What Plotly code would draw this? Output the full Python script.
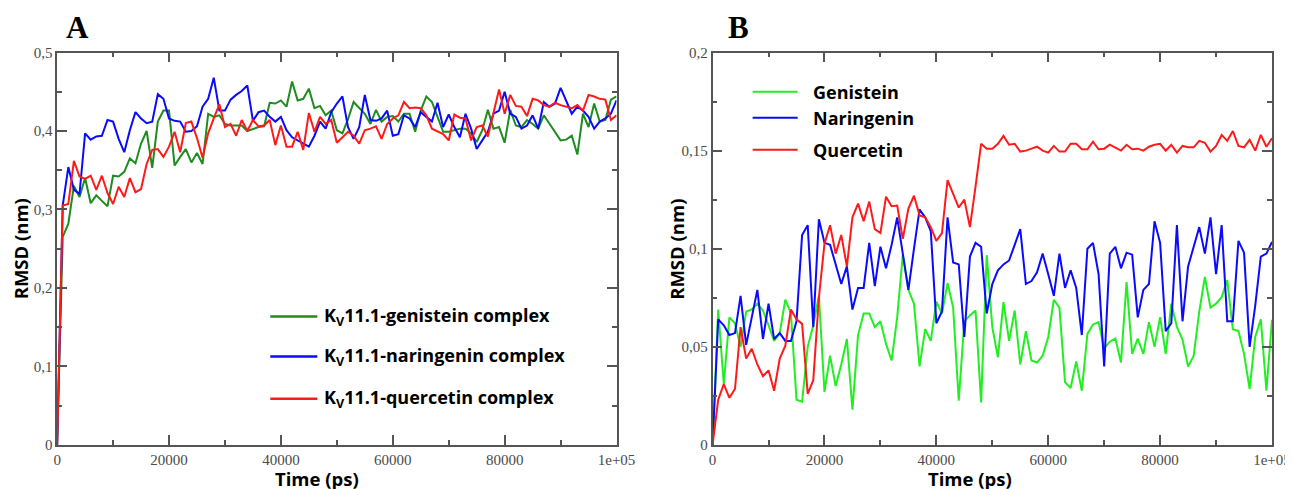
import plotly.graph_objects as go

# ---------------- data ----------------
TIME_PS = list(range(0, 100001, 1000))

A_GENISTEIN = [0.0, 0.265, 0.282, 0.33, 0.316, 0.34, 0.308, 0.318, 0.311, 0.304,
               0.343, 0.342, 0.348, 0.365, 0.359, 0.384, 0.4, 0.353, 0.412, 0.426,
               0.426, 0.356, 0.367, 0.377, 0.36, 0.372, 0.358, 0.422, 0.418, 0.42,
               0.409, 0.407, 0.407, 0.407, 0.4, 0.403, 0.405, 0.406, 0.436, 0.435,
               0.439, 0.431, 0.463, 0.439, 0.441, 0.454, 0.429, 0.432, 0.42, 0.426,
               0.401, 0.397, 0.415, 0.437, 0.429, 0.422, 0.409, 0.427, 0.412, 0.418,
               0.419, 0.412, 0.422, 0.422, 0.399, 0.426, 0.444, 0.437, 0.418, 0.399,
               0.399, 0.401, 0.403, 0.403, 0.397, 0.386, 0.401, 0.427, 0.403, 0.405,
               0.385, 0.427, 0.407, 0.405, 0.414, 0.409, 0.403, 0.42, 0.409, 0.399,
               0.388, 0.389, 0.394, 0.37, 0.422, 0.405, 0.435, 0.412, 0.414, 0.44,
               0.444]

A_NARINGENIN = [0.0, 0.305, 0.354, 0.325, 0.32, 0.397, 0.389, 0.393, 0.394, 0.414,
                0.412, 0.39, 0.373, 0.401, 0.424, 0.416, 0.41, 0.412, 0.447, 0.441,
                0.416, 0.413, 0.412, 0.399, 0.4, 0.406, 0.431, 0.441, 0.468, 0.426,
                0.426, 0.44, 0.446, 0.451, 0.458, 0.413, 0.424, 0.426, 0.418, 0.412,
                0.418, 0.401, 0.392, 0.388, 0.384, 0.38, 0.394, 0.412, 0.403, 0.424,
                0.435, 0.444, 0.405, 0.39, 0.405, 0.446, 0.414, 0.413, 0.416, 0.426,
                0.394, 0.396, 0.42, 0.416, 0.405, 0.424, 0.418, 0.412, 0.436, 0.405,
                0.421, 0.405, 0.392, 0.422, 0.403, 0.377, 0.388, 0.399, 0.422, 0.426,
                0.45, 0.422, 0.418, 0.403, 0.407, 0.42, 0.403, 0.437, 0.431, 0.435,
                0.455, 0.439, 0.422, 0.431, 0.426, 0.418, 0.403, 0.412, 0.416, 0.422,
                0.439]

A_QUERCETIN = [0.0, 0.305, 0.307, 0.362, 0.342, 0.339, 0.343, 0.325, 0.343, 0.321,
               0.307, 0.329, 0.316, 0.34, 0.322, 0.326, 0.358, 0.376, 0.377, 0.367,
               0.38, 0.399, 0.373, 0.41, 0.412, 0.391, 0.366, 0.397, 0.416, 0.434,
               0.405, 0.409, 0.394, 0.414, 0.4, 0.414, 0.406, 0.407, 0.414, 0.382,
               0.407, 0.38, 0.38, 0.399, 0.376, 0.423, 0.399, 0.418, 0.409, 0.414,
               0.385, 0.392, 0.399, 0.394, 0.384, 0.401, 0.403, 0.406, 0.39, 0.409,
               0.416, 0.42, 0.437, 0.429, 0.43, 0.429, 0.42, 0.403, 0.399, 0.396,
               0.388, 0.421, 0.417, 0.416, 0.388, 0.405, 0.407, 0.393, 0.423, 0.453,
               0.422, 0.446, 0.432, 0.431, 0.419, 0.441, 0.439, 0.433, 0.431, 0.436,
               0.433, 0.431, 0.429, 0.433, 0.426, 0.446, 0.444, 0.441, 0.44, 0.414,
               0.42]

B_GENISTEIN = [0.0, 0.069, 0.031, 0.065, 0.062, 0.05, 0.068, 0.069, 0.072, 0.0685,
               0.061, 0.053, 0.057, 0.074, 0.067, 0.023, 0.022, 0.05, 0.061, 0.076,
               0.027, 0.0455, 0.03, 0.041, 0.054, 0.018, 0.056, 0.067, 0.067, 0.06,
               0.063, 0.0515, 0.043, 0.065, 0.097, 0.079, 0.072, 0.04, 0.059, 0.053,
               0.073, 0.067, 0.0825, 0.07, 0.0225, 0.063, 0.066, 0.0685, 0.0217, 0.0967,
               0.06, 0.0447, 0.0728, 0.053, 0.0685, 0.041, 0.058, 0.043, 0.042, 0.0455,
               0.055, 0.074, 0.07, 0.032, 0.029, 0.0426, 0.0276, 0.0566, 0.0614, 0.0626,
               0.0492, 0.0526, 0.0542, 0.042, 0.083, 0.0464, 0.0542, 0.0464, 0.0626, 0.05,
               0.0651, 0.0464, 0.072, 0.0602, 0.0537, 0.04, 0.0455, 0.068, 0.0856, 0.07,
               0.072, 0.0753, 0.084, 0.059, 0.058, 0.0464, 0.0285, 0.055, 0.064, 0.0276,
               0.0638]

B_NARINGENIN = [0.0, 0.064, 0.061, 0.056, 0.057, 0.076, 0.051, 0.065, 0.079, 0.054,
                0.072, 0.054, 0.057, 0.053, 0.053, 0.063, 0.107, 0.112, 0.06, 0.115,
                0.103, 0.102, 0.092, 0.082, 0.091, 0.069, 0.08, 0.08, 0.103, 0.081,
                0.101, 0.09, 0.102, 0.116, 0.0975, 0.079, 0.1, 0.12, 0.116, 0.109,
                0.062, 0.068, 0.116, 0.093, 0.092, 0.055, 0.096, 0.103, 0.101, 0.067,
                0.082, 0.089, 0.092, 0.094, 0.102, 0.11, 0.082, 0.0835, 0.088, 0.0975,
                0.087, 0.076, 0.0975, 0.08, 0.089, 0.08, 0.056, 0.1, 0.103, 0.087,
                0.04, 0.0975, 0.101, 0.09, 0.098, 0.097, 0.065, 0.079, 0.082, 0.114,
                0.103, 0.058, 0.062, 0.112, 0.063, 0.091, 0.101, 0.111, 0.0975, 0.116,
                0.087, 0.112, 0.063, 0.063, 0.104, 0.098, 0.05, 0.071, 0.096, 0.0975,
                0.1035]

B_QUERCETIN = [0.0, 0.023, 0.031, 0.024, 0.0285, 0.06, 0.044, 0.049, 0.041, 0.035,
               0.038, 0.0276, 0.044, 0.0506, 0.069, 0.064, 0.0617, 0.026, 0.033, 0.075,
               0.1026, 0.112, 0.0975, 0.107, 0.091, 0.116, 0.123, 0.114, 0.124, 0.11,
               0.108, 0.1265, 0.1217, 0.122, 0.105, 0.1205, 0.127, 0.117, 0.116, 0.111,
               0.104, 0.108, 0.135, 0.128, 0.121, 0.125, 0.111, 0.1316, 0.1535, 0.151,
               0.151, 0.1535, 0.1575, 0.153, 0.1535, 0.1495, 0.15, 0.151, 0.152, 0.15,
               0.149, 0.1524, 0.1495, 0.1495, 0.1535, 0.1535, 0.1507, 0.1507, 0.1546, 0.1507,
               0.151, 0.153, 0.1517, 0.15, 0.153, 0.1507, 0.151, 0.15, 0.152, 0.153,
               0.1535, 0.15, 0.153, 0.149, 0.1524, 0.1517, 0.1517, 0.155, 0.154, 0.1495,
               0.1524, 0.158, 0.155, 0.16, 0.1524, 0.1517, 0.1555, 0.15, 0.158, 0.152,
               0.1563]

X_TICKVALS = [0, 20000, 40000, 60000, 80000, 100000]
X_TICKTEXT = ["0", "20000", "40000", "60000", "80000", "1e+05"]
YA_TICKVALS = [0, 0.1, 0.2, 0.3, 0.4, 0.5]
YA_TICKTEXT = ["0", "0,1", "0,2", "0,3", "0,4", "0,5"]
YB_TICKVALS = [0, 0.05, 0.1, 0.15, 0.2]
YB_TICKTEXT = ["0", "0,05", "0,1", "0,15", "0,2"]

A_LABELS = ["K<sub>V</sub>11.1-genistein complex",
            "K<sub>V</sub>11.1-naringenin complex",
            "K<sub>V</sub>11.1-quercetin complex"]
B_LABELS = ["Genistein", "Naringenin", "Quercetin"]

A_COLORS = ["#1e8c1e", "#0a0aff", "#ff1a1a"]
B_COLORS = ["#22ee22", "#0a0aff", "#ff1a1a"]

# ---------------- geometry ----------------
# figure size, and the measured placement of the figure in the captured picture
W, H = 1330, 491
SX, CX = 0.982, 11.9
SY, CY = 0.964, 16.6


def px(t):
    """target picture x (px) -> paper fraction"""
    return (t - CX) / SX / W


def py(t):
    """target picture y (px, from top) -> paper fraction"""
    return 1 - (t - CY) / SY / H


fig = go.Figure()

for vals, col in zip([A_GENISTEIN, A_NARINGENIN, A_QUERCETIN], A_COLORS):
    fig.add_trace(go.Scatter(x=TIME_PS, y=vals, mode="lines",
                             line=dict(color=col, width=2),
                             xaxis="x", yaxis="y", showlegend=False))
for vals, col in zip([B_GENISTEIN, B_NARINGENIN, B_QUERCETIN], B_COLORS):
    fig.add_trace(go.Scatter(x=TIME_PS, y=vals, mode="lines",
                             line=dict(color=col, width=2),
                             xaxis="x2", yaxis="y2", showlegend=False))

AX_COL = "#555555"
TICKFONT = dict(family="Liberation Serif", size=15, color="#4a4a4a")


def xaxis_cfg(dom, anchor):
    return dict(domain=dom, anchor=anchor, range=[0, 100000],
                tickvals=X_TICKVALS, ticktext=X_TICKTEXT,
                ticks="inside", ticklen=10, tickwidth=1.5, tickcolor=AX_COL,
                minor=dict(ticks="inside", ticklen=5, tickwidth=1.5,
                           tickcolor=AX_COL, dtick=10000, tick0=0, showgrid=False),
                showline=True, linecolor=AX_COL, linewidth=1.5, mirror="ticks",
                showgrid=False, zeroline=False, tickfont=TICKFONT)


def yaxis_cfg(dom, anchor, tv, tt, rng, minor_dtick):
    return dict(domain=dom, anchor=anchor, range=rng,
                tickvals=tv, ticktext=tt,
                ticks="inside", ticklen=10, tickwidth=1.5, tickcolor=AX_COL,
                minor=dict(ticks="inside", ticklen=5, tickwidth=1.5,
                           tickcolor=AX_COL, dtick=minor_dtick, tick0=0,
                           showgrid=False),
                showline=True, linecolor=AX_COL, linewidth=1.5, mirror="ticks",
                showgrid=False, zeroline=False, tickfont=TICKFONT)


y_dom = [py(444), py(53)]
fig.update_layout(
    width=W, height=H,
    margin=dict(l=0, r=0, t=0, b=0),
    paper_bgcolor="white", plot_bgcolor="white",
    xaxis=xaxis_cfg([px(57), px(616)], "y"),
    yaxis=yaxis_cfg(y_dom, "x", YA_TICKVALS, YA_TICKTEXT, [0, 0.5], 0.05),
    xaxis2=xaxis_cfg([px(712), px(1271)], "y2"),
    yaxis2=yaxis_cfg(y_dom, "x2", YB_TICKVALS, YB_TICKTEXT, [0, 0.2], 0.025),
)

TITLE_FONT = dict(family="Open Sans", size=18.5, color="black")
ann = []
# panel letters
for xc, lab in [(77, "A"), (738, "B")]:
    ann.append(dict(x=px(xc), y=py(28), text="<b>" + lab + "</b>", showarrow=False,
                    xanchor="center", yanchor="middle",
                    font=dict(family="Liberation Serif", size=31, color="black")))
# axis titles
for xc in [317, 969]:
    ann.append(dict(x=px(xc), y=py(477), text="<b>Time (ps)</b>", showarrow=False,
                    xanchor="center", yanchor="middle", font=TITLE_FONT))
for xc in [20, 676]:
    ann.append(dict(x=px(xc), y=py(249), text="<b>RMSD (nm)</b>", showarrow=False,
                    xanchor="center", yanchor="middle", textangle=-90,
                    font=TITLE_FONT))

shapes = []
# legend A
for lab, col, yy in zip(A_LABELS, A_COLORS, [316, 356, 398]):
    shapes.append(dict(type="line", xref="paper", yref="paper",
                       x0=px(270), x1=px(317), y0=py(yy), y1=py(yy),
                       line=dict(color=col, width=2.5)))
    ann.append(dict(x=px(322), y=py(yy), xanchor="left", yanchor="middle",
                    text="<b>" + lab + "</b>", showarrow=False,
                    font=dict(family="Open Sans", size=18, color="black")))
# legend B
for lab, col, yy in zip(B_LABELS, B_COLORS, [92, 118, 150]):
    shapes.append(dict(type="line", xref="paper", yref="paper",
                       x0=px(752), x1=px(797), y0=py(yy), y1=py(yy),
                       line=dict(color=col, width=2)))
    ann.append(dict(x=px(810), y=py(yy), xanchor="left", yanchor="middle",
                    text="<b>" + lab + "</b>", showarrow=False,
                    font=dict(family="Open Sans", size=18, color="black")))

for a in ann:
    a["xref"] = "paper"
    a["yref"] = "paper"
fig.update_layout(annotations=ann, shapes=shapes)

fig.write_html("out.html")
